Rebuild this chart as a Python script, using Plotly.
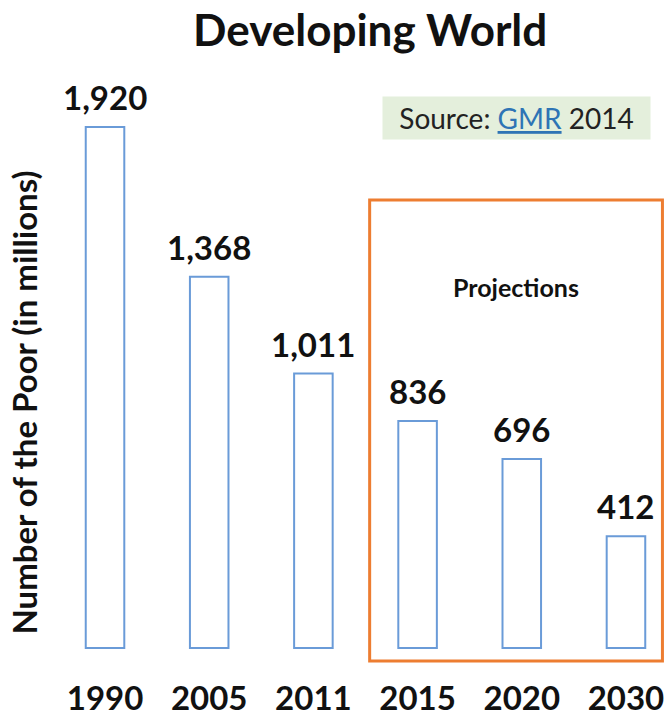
import plotly.graph_objects as go

# Number of people in extreme poverty, developing world (millions)
years = ["1990", "2005", "2011", "2015", "2020", "2030"]
poor_millions = [1920, 1368, 1011, 836, 696, 412]
projected_years = ["2015", "2020", "2030"]

FONT = "Lato"
INK = "#111111"
BAR_LINE = "#6A9BD8"
ORANGE = "#ED7D31"

fig = go.Figure()

fig.add_trace(go.Bar(
    x=years,
    y=poor_millions,
    width=0.37,
    marker=dict(color="white", line=dict(color=BAR_LINE, width=2)),
    hoverinfo="x+y",
    showlegend=False,
))

# value labels above each bar (category index as x position)
for i, v in enumerate(poor_millions):
    fig.add_annotation(
        x=i, y=v, xref="x", yref="y", text=f"<b>{v:,}</b>", showarrow=False,
        xanchor="center", yanchor="bottom", yshift=8,
        font=dict(family=FONT, size=33, color=INK),
    )

# frame around the projected years
first = years.index(projected_years[0])
last = years.index(projected_years[-1])
fig.add_shape(
    type="rect", xref="x", yref="y",
    x0=first - 0.46, x1=last + 0.35, y0=-48, y1=1651,
    line=dict(color=ORANGE, width=3), fillcolor="rgba(0,0,0,0)",
    layer="below",
)
fig.add_annotation(
    x=(first + last - 0.11) / 2, y=1330, xref="x", yref="y",
    text="<b>Projections</b>", showarrow=False,
    xanchor="center", yanchor="middle",
    font=dict(family=FONT, size=25, color=INK),
)

# source note
fig.add_annotation(
    x=0.764, y=0.905, xref="paper", yref="paper",
    xanchor="center", yanchor="middle",
    text="Source: <span style='color:#2E74B5;text-decoration:underline'>GMR</span> 2014",
    showarrow=False, bgcolor="#E4EFDC", width=265, height=40,
    font=dict(family=FONT, size=28, color="#222222"),
)

# rotated y title
fig.add_annotation(
    x=-0.026, y=0.438, xref="paper", yref="paper",
    xanchor="center", yanchor="middle",
    text="<b>Number of the Poor (in millions)</b>", textangle=-90,
    showarrow=False, font=dict(family=FONT, size=33, color=INK),
)

fig.update_layout(
    width=667, height=721,
    margin=dict(l=40, r=3, t=60, b=51),
    paper_bgcolor="white", plot_bgcolor="white",
    title=dict(text="<b>Developing World</b>", x=0.555, xanchor="center",
               y=0.958, yanchor="middle",
               font=dict(family=FONT, size=44, color=INK)),
    xaxis=dict(type="category", range=[-0.624, 5.365], showgrid=False,
               zeroline=False, showline=False, ticks="",
               tickfont=dict(family=FONT, size=33, color=INK, weight="bold"),
               ticklabelstandoff=6),
    yaxis=dict(range=[-81, 2166.5], visible=False),
)

fig.write_html("out.html", config={"displayModeBar": False})
